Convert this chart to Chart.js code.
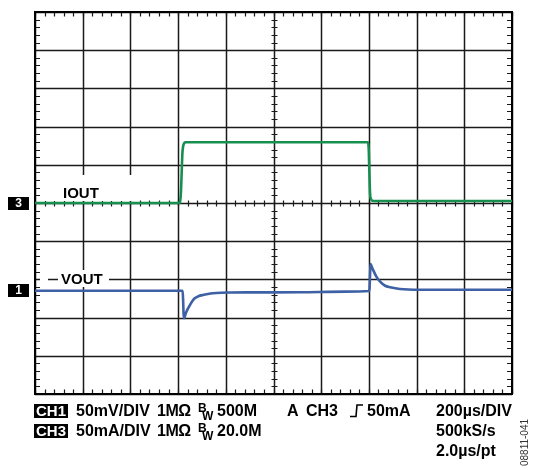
<!DOCTYPE html>
<html>
<head>
<meta charset="utf-8">
<script src="https://cdn.jsdelivr.net/npm/chart.js@4.4.1/dist/chart.umd.min.js"></script>
<style>
  html, body { margin: 0; padding: 0; background: #fff; }
  #wrap { position: relative; width: 536px; height: 470px; overflow: hidden; font-family: "Liberation Sans", Arial, sans-serif; }
  canvas { position: absolute; left: 0; top: 0; }
  .t { position: absolute; font-weight: bold; font-size: 16px; line-height: 16px; color: #000; white-space: nowrap; }
  .box { position: absolute; background: #000; color: #fff; font-weight: bold; text-align: center; white-space: nowrap; }
  .wb { position: absolute; background: #fff; }
  .sm { position: absolute; font-weight: bold; font-size: 12px; line-height: 12px; color: #000; }
</style>
</head>
<body>
<div id="wrap">
  <canvas id="c" width="536" height="470"></canvas>

  <div class="wb" style="left:40px; top:175px; width:96px; height:26px;"></div>
  <div class="t" style="left:63px; top:185px; font-size:15px; line-height:15px;">IOUT</div>

  <div class="wb" style="left:40px; top:270px; width:8px; height:17px;"></div>
  <div class="wb" style="left:58px; top:270px; width:51px; height:17px;"></div>
  <div class="t" style="left:61px; top:271px; font-size:15px; line-height:15px;">VOUT</div>

  <div class="box" style="left:8px; top:197px; width:21px; height:13px; font-size:12px; line-height:13px;">3</div>
  <div class="box" style="left:8px; top:284px; width:21px; height:13px; font-size:12px; line-height:13px;">1</div>

  <div class="box" style="left:34px; top:404px; width:34px; height:14px; font-size:15px; line-height:14px;">CH1</div>
  <div class="t" style="left:76px; top:403px;">50mV/DIV</div>
  <div class="t" style="left:157px; top:403px; letter-spacing:-0.5px;">1MΩ</div>
  <div class="sm" style="left:198px; top:402px;">B</div>
  <div class="sm" style="left:202px; top:410px;">W</div>
  <div class="t" style="left:217px; top:403px;">500M</div>
  <div class="t" style="left:287px; top:403px;">A</div>
  <div class="t" style="left:306px; top:403px;">CH3</div>
  <svg style="position:absolute; left:350px; top:403px;" width="14" height="16"><polyline points="0,13.5 6,13.5 7,2 13,2" fill="none" stroke="#000" stroke-width="1.6"/></svg>
  <div class="t" style="left:367px; top:403px;">50mA</div>
  <div class="t" style="left:436px; top:403px;">200µs/DIV</div>

  <div class="box" style="left:34px; top:424px; width:34px; height:14px; font-size:15px; line-height:14px;">CH3</div>
  <div class="t" style="left:76px; top:423px;">50mA/DIV</div>
  <div class="t" style="left:157px; top:423px; letter-spacing:-0.5px;">1MΩ</div>
  <div class="sm" style="left:198px; top:422px;">B</div>
  <div class="sm" style="left:202px; top:430px;">W</div>
  <div class="t" style="left:217px; top:423px;">20.0M</div>
  <div class="t" style="left:436px; top:423px;">500kS/s</div>
  <div class="t" style="left:436px; top:443px;">2.0µs/pt</div>

  <div style="position:absolute; left:499px; top:437px; width:50px; height:11px; font-size:10px; line-height:11px; color:#333; transform:rotate(-90deg); transform-origin:center; text-align:center; white-space:nowrap;">08811-041</div>
</div>
<script>
// ---- data (time in µs, 200 µs/div) ----
const xTicksUs = [0, 200, 400, 600, 800, 1000, 1200, 1400, 1600, 1800, 2000];
const yTicksDiv = [-5, -4, -3, -2, -1, 0, 1, 2, 3, 4, 5];

// CH3: IOUT in mA (50 mA/div)
const ioutTime = [0, 300, 606, 609, 612, 615, 618, 621, 625, 630, 800, 1100, 1396, 1399, 1402, 1405, 1409, 1415, 1425, 1700, 2000];
const ioutMA   = [0, 0,   0,   3,   15,  40,  65,  74,  78,  79.5, 79.5, 79.5, 79.5, 72, 40, 12, 5, 3, 2.6, 2.6, 2.6];

// CH1: VOUT deviation in mV (50 mV/div)
const voutTime = [0, 300, 619, 621, 623, 625, 628, 633, 640, 650, 660, 671, 685, 704, 725, 746, 780, 818, 900, 1111, 1300, 1401, 1403, 1405, 1407, 1410, 1418, 1432, 1447, 1468, 1489, 1530, 1614, 2000];
const voutMV   = [0, 0,   0,   -12, -30, -36, -34, -29, -24, -18.7, -13.5, -9.6, -7.3, -5.6, -4.3, -3.4, -2.7, -2.4, -2.2, -2, -1.2, -0.4, 5, 22, 35, 33, 27, 18, 11.8, 6.5, 4.5, 2.2, 1.3, 1.3];

const CH3_PER_DIV = 50, CH1_PER_DIV = 50;
const CH3_REF_DIV = 0, CH1_REF_DIV = -2.296;

const ioutPts = ioutTime.map((t, i) => ({ x: t, y: CH3_REF_DIV + ioutMA[i] / CH3_PER_DIV }));
const voutPts = voutTime.map((t, i) => ({ x: t, y: CH1_REF_DIV + voutMV[i] / CH1_PER_DIV }));

const scopeGrid = {
  id: 'scopeGrid',
  beforeDatasetsDraw(chart) {
    const { ctx, chartArea: a, scales: { x, y } } = chart;
    ctx.save();
    ctx.strokeStyle = '#1a1a1a';
    ctx.lineWidth = 1.5;
    ctx.beginPath();
    xTicksUs.forEach(v => { const px = Math.round(x.getPixelForValue(v)) + 0.5; ctx.moveTo(px, a.top); ctx.lineTo(px, a.bottom); });
    yTicksDiv.forEach(v => { const py = Math.round(y.getPixelForValue(v)) + 0.5; ctx.moveTo(a.left, py); ctx.lineTo(a.right, py); });
    ctx.stroke();
    // minor ticks
    ctx.lineWidth = 1.2;
    ctx.beginPath();
    const cx = Math.round(x.getPixelForValue(1000)) + 0.5;
    const cy = Math.round(y.getPixelForValue(0)) + 0.5;
    for (let k = 0; k <= 50; k++) {
      const px = Math.round(x.getPixelForValue(k * 40)) + 0.5;
      ctx.moveTo(px, a.top); ctx.lineTo(px, a.top + 4.5);
      ctx.moveTo(px, a.bottom); ctx.lineTo(px, a.bottom - 4.5);
      ctx.moveTo(px, cy - 3); ctx.lineTo(px, cy + 3);
    }
    for (let k = 0; k <= 50; k++) {
      const py = Math.round(y.getPixelForValue(-5 + k * 0.2)) + 0.5;
      ctx.moveTo(a.left, py); ctx.lineTo(a.left + 5, py);
      ctx.moveTo(a.right, py); ctx.lineTo(a.right - 5, py);
      ctx.moveTo(cx - 3, py); ctx.lineTo(cx + 3, py);
    }
    ctx.stroke();
    // border
    ctx.lineWidth = 2;
    ctx.strokeStyle = '#000';
    ctx.strokeRect(a.left, a.top, a.right - a.left, a.bottom - a.top);
    ctx.restore();
  }
};

new Chart(document.getElementById('c'), {
  type: 'line',
  data: {
    datasets: [
      { label: 'IOUT', data: ioutPts, borderColor: '#17904f', borderWidth: 2.6, pointRadius: 0, cubicInterpolationMode: 'monotone', fill: false },
      { label: 'VOUT', data: voutPts, borderColor: '#3e60a5', borderWidth: 2.6, pointRadius: 0, cubicInterpolationMode: 'monotone', fill: false }
    ]
  },
  options: {
    responsive: false,
    animation: false,
    parsing: false,
    layout: { padding: { left: 35, top: 12, right: 24, bottom: 76 } },
    scales: {
      x: { type: 'linear', min: 0, max: 2000, display: false },
      y: { type: 'linear', min: -5, max: 5, display: false }
    },
    plugins: { legend: { display: false }, tooltip: { enabled: false } }
  },
  plugins: [scopeGrid]
});
</script>
</body>
</html>
